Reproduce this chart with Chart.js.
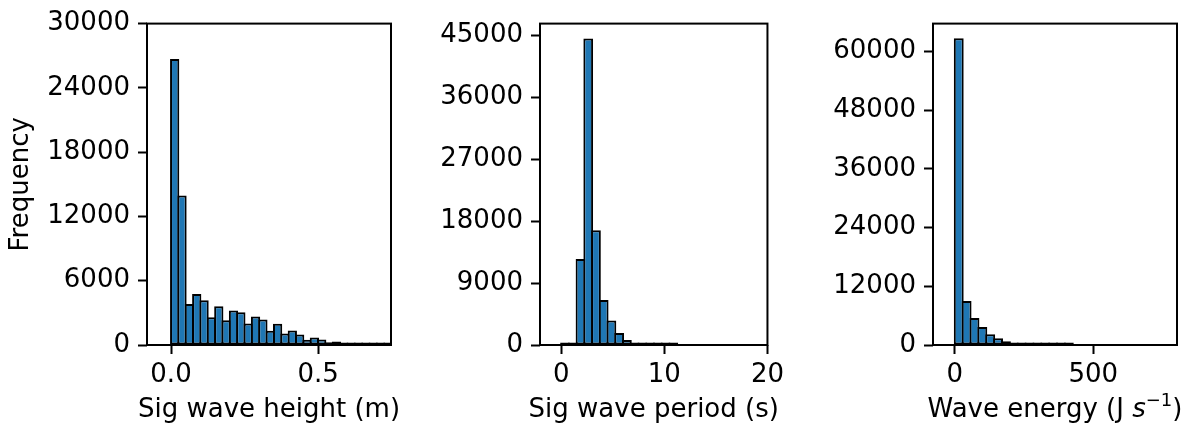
<!DOCTYPE html>
<html>
<head>
<meta charset="utf-8">
<script src="https://cdn.jsdelivr.net/npm/chart.js@4"></script>
<style>
  body { margin: 0; background: #fff; }
  canvas { position: absolute; top: 0; }
</style>
</head>
<body>
<canvas id="chart-1" width="400" height="433" style="left:0px"></canvas>
<canvas id="chart-2" width="370" height="433" style="left:420px"></canvas>
<canvas id="chart-3" width="384" height="433" style="left:810px"></canvas>
<script>
// ================= DADOS =================
// Sig wave height (m)
const heightBinStart = 0;
const heightBinWidth = 0.025;
const heightCounts = [26700, 13950, 3820, 4770, 4170, 2590, 3620, 2300, 3230, 3050,
  2000, 2670, 2370, 1330, 1990, 1080, 1360, 990, 500, 710,
  520, 250, 330, 190, 150, 120, 90, 70, 50, 40];
const heightXTicks = [0, 0.5];
const heightXLabels = ["0.0", "0.5"];
const heightYTicks = [0, 6000, 12000, 18000, 24000, 30000];

// Sig wave period (s)
const periodBinStart = 0;
const periodBinWidth = 0.75;
const periodCounts = [120, 280, 12500, 44500, 16650, 6550, 3550, 1730, 720, 340,
  190, 120, 80, 60, 40];
const periodXTicks = [0, 10, 20];
const periodXLabels = ["0", "10", "20"];
const periodYTicks = [0, 9000, 18000, 27000, 36000, 45000];

// Wave energy (J s^-1)
const energyBinStart = 0;
const energyBinWidth = 28.4;
const energyCounts = [62680, 9000, 5500, 3700, 2200, 1400, 780, 470, 270, 160,
  110, 75, 50, 35, 25];
const energyXTicks = [0, 500];
const energyXLabels = ["0", "500"];
const energyYTicks = [0, 12000, 24000, 36000, 48000, 60000];

// ================= ESTILO =================
Chart.defaults.font.family = "'DejaVu Sans'";
Chart.defaults.font.size = 26;
Chart.defaults.color = "#000";
Chart.defaults.animation = false;

const molduraPlugin = {
  id: "moldura",
  afterDatasetsDraw(chart) {
    const { ctx, chartArea: a } = chart;
    ctx.save();
    ctx.strokeStyle = "#000";
    ctx.lineWidth = 2;
    ctx.strokeRect(a.left, a.top, a.right - a.left, a.bottom - a.top);
    ctx.restore();
  }
};

const xlabelPlugin = {
  id: "xlabel",
  afterDraw(chart, args, opts) {
    const partes = opts.parts || [];
    const ctx = chart.ctx;
    const fonte = p => `${p.italic ? "oblique " : ""}${p.sup ? 18 : 26}px 'DejaVu Sans'`;
    let total = 0;
    partes.forEach(p => {
      ctx.font = fonte(p);
      total += ctx.measureText(p.text).width;
    });
    const a = chart.chartArea;
    let x = (a.left + a.right) / 2 - total / 2;
    const y = a.bottom + opts.offset;
    ctx.save();
    ctx.fillStyle = "#000";
    ctx.textBaseline = "middle";
    ctx.textAlign = "left";
    partes.forEach(p => {
      ctx.font = fonte(p);
      ctx.fillText(p.text, x, p.sup ? y - 9 : y);
      x += ctx.measureText(p.text).width;
    });
    ctx.restore();
  }
};

// ================= HISTOGRAMA =================
function criarHistograma(id, cfg) {
  const pontos = cfg.counts.map((c, i) => ({
    x: cfg.binStart + (i + 0.5) * cfg.binWidth,
    y: c
  }));

  new Chart(document.getElementById(id), {
    type: "bar",
    data: {
      datasets: [{
        data: pontos,
        backgroundColor: "#1f77b4",
        borderColor: "#000",
        borderWidth: 2,
        borderSkipped: false,
        minBarLength: 2.5,
        barPercentage: 1.26,
        categoryPercentage: 1
      }]
    },
    plugins: [molduraPlugin, xlabelPlugin],
    options: {
      responsive: false,
      layout: { padding: { left: 0, top: 19, right: cfg.rightPad, bottom: 0 } },
      plugins: {
        legend: { display: false },
        tooltip: { enabled: false },
        xlabel: { parts: cfg.xTitle, offset: 65 }
      },
      scales: {
        x: {
          type: "linear",
          min: cfg.xMin,
          max: cfg.xMax,
          offset: false,
          grid: { display: true, offset: false, drawOnChartArea: false, drawTicks: true,
                  tickLength: 9, tickWidth: 2, tickColor: "#000" },
          border: { display: false },
          ticks: {
            padding: 6,
            maxRotation: 0,
            callback: (v, i) => cfg.xLabels[i]
          },
          afterBuildTicks: s => { s.ticks = cfg.xTicks.map(v => ({ value: v })); },
          afterFit: s => { s.height = 88; }
        },
        y: {
          type: "linear",
          min: 0,
          max: cfg.yMax,
          grid: { display: true, drawOnChartArea: false, drawTicks: true,
                  tickLength: 9, tickWidth: 2, tickColor: "#000" },
          border: { display: false },
          ticks: { padding: 8, callback: v => String(v) },
          afterBuildTicks: s => { s.ticks = cfg.yTicks.map(v => ({ value: v })); },
          afterFit: s => { s.width = cfg.yWidth; },
          title: {
            display: !!cfg.yTitle,
            text: cfg.yTitle || "",
            padding: { top: 6, bottom: 0 }
          }
        }
      }
    }
  });
}

function carregarGraficos() {
  criarHistograma("chart-1", {
    binStart: heightBinStart, binWidth: heightBinWidth, counts: heightCounts,
    xTicks: heightXTicks, xLabels: heightXLabels, yTicks: heightYTicks,
    xMin: -0.0816, xMax: 0.748, yMax: 30000,
    yWidth: 147, rightPad: 9, yTitle: "Frequency",
    xTitle: [{ text: "Sig wave height (m)" }]
  });

  criarHistograma("chart-2", {
    binStart: periodBinStart, binWidth: periodBinWidth, counts: periodCounts,
    xTicks: periodXTicks, xLabels: periodXLabels, yTicks: periodYTicks,
    xMin: -2.05, xMax: 20, yMax: 46675,
    yWidth: 120, rightPad: 6,
    xTitle: [{ text: "Sig wave period (s)" }]
  });

  criarHistograma("chart-3", {
    binStart: energyBinStart, binWidth: energyBinWidth, counts: energyCounts,
    xTicks: energyXTicks, xLabels: energyXLabels, yTicks: energyYTicks,
    xMin: -78.8, xMax: 802.5, yMax: 65700,
    yWidth: 123, rightPad: 17,
    xTitle: [
      { text: "Wave energy (J " },
      { text: "s", italic: true },
      { text: "\u22121", sup: true },
      { text: ")" }
    ]
  });
}

window.addEventListener("DOMContentLoaded", carregarGraficos);
</script>
</body>
</html>
